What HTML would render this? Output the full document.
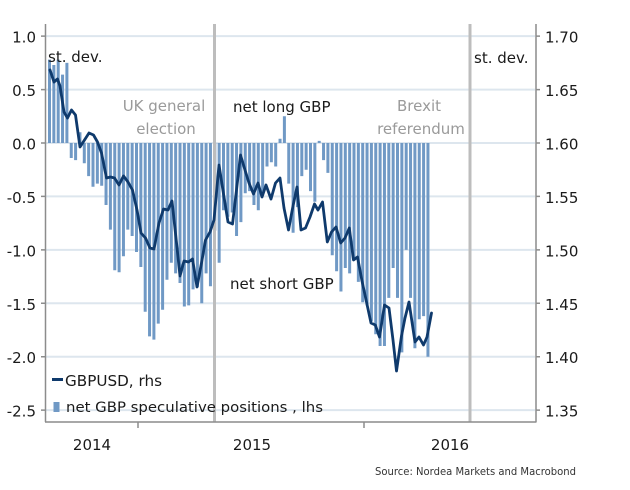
<!DOCTYPE html>
<html><head><meta charset="utf-8"><style>
html,body{margin:0;padding:0;background:#fff;}
svg{display:block;}
text{font-family:"DejaVu Sans","Liberation Sans",sans-serif;}
</style></head><body>
<svg width="630" height="490" viewBox="0 0 630 490" xmlns="http://www.w3.org/2000/svg">
<rect width="630" height="490" fill="#fff"/>
<g stroke="#dde6ee" stroke-width="2">
<line x1="46" y1="36.1" x2="535" y2="36.1"/>
<line x1="46" y1="89.6" x2="535" y2="89.6"/>
<line x1="46" y1="143" x2="535" y2="143"/>
<line x1="46" y1="196.4" x2="535" y2="196.4"/>
<line x1="46" y1="249.9" x2="535" y2="249.9"/>
<line x1="46" y1="303.3" x2="535" y2="303.3"/>
<line x1="46" y1="356.7" x2="535" y2="356.7"/>
<line x1="46" y1="410.1" x2="535" y2="410.1"/>
</g>
<path fill="#7099c5" d="M48 143v-83.4h3v83.4z M52.35 143v-78h3v78z M56.7 143v-83.4h3v83.4z M61.05 143v-68.4h3v68.4z M65.4 143v-80.1h3v80.1z M69.75 143v15h3v-15z M74.1 143v17.1h3v-17.1z M78.45 143v-10.7h3v10.7z M82.8 143v20.3h3v-20.3z M87.15 143v33.1h3v-33.1z M91.5 143v43.8h3v-43.8z M95.85 143v40.6h3v-40.6z M100.2 143v42.7h3v-42.7z M104.55 143v62h3v-62z M108.9 143v86.6h3v-86.6z M113.25 143v127.2h3v-127.2z M117.6 143v129.3h3v-129.3z M121.95 143v113.3h3v-113.3z M126.3 143v86.6h3v-86.6z M130.65 143v93h3v-93z M135 143v109h3v-109z M139.35 143v124h3v-124z M143.7 143v168.8h3v-168.8z M148.05 143v193.4h3v-193.4z M152.4 143v196.6h3v-196.6z M156.75 143v180.6h3v-180.6z M161.1 143v166.7h3v-166.7z M165.45 143v136.8h3v-136.8z M169.8 143v119.7h3v-119.7z M174.15 143v130.4h3v-130.4z M178.5 143v140h3v-140z M182.85 143v163.5h3v-163.5z M187.2 143v162.4h3v-162.4z M191.55 143v146.4h3v-146.4z M195.9 143v144.3h3v-144.3z M200.25 143v160.3h3v-160.3z M204.6 143v130.4h3v-130.4z M208.95 143v143.2h3v-143.2z M213.3 143v87.6h3v-87.6z M217.65 143v119.7h3v-119.7z M222 143v67.3h3v-67.3z M226.35 143v73.7h3v-73.7z M230.7 143v69.5h3v-69.5z M235.05 143v93h3v-93z M239.4 143v79.1h3v-79.1z M243.75 143v50.2h3v-50.2z M248.1 143v48.1h3v-48.1z M252.45 143v62h3v-62z M256.8 143v67.3h3v-67.3z M261.15 143v50.2h3v-50.2z M265.5 143v23.5h3v-23.5z M269.85 143v19.2h3v-19.2z M274.2 143v23.5h3v-23.5z M278.55 143v-4.3h3v4.3z M282.9 143v-26.7h3v26.7z M287.25 143v40.6h3v-40.6z M291.6 143v89.8h3v-89.8z M295.95 143v64.1h3v-64.1z M300.3 143v33.1h3v-33.1z M304.65 143v26.7h3v-26.7z M309 143v48.1h3v-48.1z M313.35 143v58.8h3v-58.8z M317.7 143v-2.1h3v2.1z M322.05 143v17.1h3v-17.1z M326.4 143v29.9h3v-29.9z M330.75 143v112.2h3v-112.2z M335.1 143v128.2h3v-128.2z M339.45 143v148.5h3v-148.5z M343.8 143v125h3v-125z M348.15 143v130.4h3v-130.4z M352.5 143v117.5h3v-117.5z M356.85 143v138.9h3v-138.9z M361.2 143v159.2h3v-159.2z M365.55 143v162.4h3v-162.4z M369.9 143v178.5h3v-178.5z M374.25 143v191.3h3v-191.3z M378.6 143v203h3v-203z M382.95 143v203h3v-203z M387.3 143v154.9h3v-154.9z M391.65 143v125h3v-125z M396 143v154.9h3v-154.9z M400.35 143v209.4h3v-209.4z M404.7 143v106.9h3v-106.9z M409.05 143v154.9h3v-154.9z M413.4 143v205.2h3v-205.2z M417.75 143v176.3h3v-176.3z M422.1 143v173.1h3v-173.1z M426.45 143v213.7h3v-213.7z"/>
<line x1="214.5" y1="24" x2="214.5" y2="422" stroke="#bdbdbd" stroke-width="3"/>
<line x1="470" y1="24" x2="470" y2="422" stroke="#bdbdbd" stroke-width="3"/>
<g stroke="#8c8c8c" stroke-width="1.5" fill="none">
<line x1="45.5" y1="24" x2="45.5" y2="422"/>
<line x1="536" y1="24" x2="536" y2="422"/>
<line x1="45" y1="422" x2="536.5" y2="422"/>
<line x1="138" y1="422" x2="138" y2="428"/>
<line x1="364" y1="422" x2="364" y2="428"/>
<path d="M41 36.1h4M41 89.6h4M41 143h4M41 196.4h4M41 249.9h4M41 303.3h4M41 356.7h4M41 410.1h4"/>
<path d="M536 36.1h4M536 89.6h4M536 143h4M536 196.4h4M536 249.9h4M536 303.3h4M536 356.7h4M536 410.1h4"/>
</g>
<polyline fill="none" stroke="#0f3a6c" stroke-width="2.8" stroke-linejoin="round" stroke-linecap="round" points="50,70 54,82 57.5,79 60,86 64,112 67.5,118 71.5,110 75.5,115 80,147 84.5,140 89,133 93.5,135 97.5,142 101.5,153 106.5,178 110.5,177 114.5,178 119,185 123.5,176 128,182 132.5,190 137,210 141,233 145.5,238 150,248 154,249 159,223 163.5,209 168,210 172,201 176,238 180,276 184,261 188.5,262 192.5,259 197,287 201.5,263 205.5,240 210,232 214,220 219,165 224,197 228,222 232.5,224 236.5,190 240.5,155 245,170 249,183 253.5,194 258,183 262,197 266,185 271,199 275.5,183 280,178 284,208 288.5,230 293,206 297,187 301,230 305.5,228 310,217 314.5,204 318,210 322.5,202 327.3,242 331.5,232 336,227 340.7,243 345,238 349.3,228 353.5,260 357.5,257 362,281 366.5,302 371,323 375.3,325 379.5,337 384.5,305 389,308 393,340 396.5,371 401.5,336 405,318 409,302 415,342 419,337 423.5,345 427,337 431.5,313"/>
<g font-size="15" fill="#1a1a1a" text-anchor="end">
<text x="36" y="42.6">1.0</text>
<text x="36" y="96.1">0.5</text>
<text x="36" y="149.5">0.0</text>
<text x="36" y="202.9">-0.5</text>
<text x="36" y="256.4">-1.0</text>
<text x="36" y="309.8">-1.5</text>
<text x="36" y="363.2">-2.0</text>
<text x="36" y="416.6">-2.5</text>
</g>
<g font-size="15" fill="#1a1a1a">
<text x="545" y="42.6">1.70</text>
<text x="545" y="96.1">1.65</text>
<text x="545" y="149.5">1.60</text>
<text x="545" y="202.9">1.55</text>
<text x="545" y="256.4">1.50</text>
<text x="545" y="309.8">1.45</text>
<text x="545" y="363.2">1.40</text>
<text x="545" y="416.6">1.35</text>
</g>
<g font-size="15" fill="#1a1a1a" text-anchor="middle">
<text x="92" y="450">2014</text>
<text x="252" y="450">2015</text>
<text x="450" y="450">2016</text>
</g>
<g font-size="15" fill="#1a1a1a">
<text x="48" y="62">st. dev.</text>
<text x="474" y="63">st. dev.</text>
<text x="233" y="112">net long GBP</text>
<text x="230" y="289">net short GBP</text>
</g>
<g font-size="15" fill="#9a9a9a" text-anchor="middle">
<text x="164" y="111">UK general</text>
<text x="166" y="134">election</text>
<text x="419" y="111">Brexit</text>
<text x="421" y="134">referendum</text>
</g>
<line x1="52" y1="379.5" x2="63" y2="379.5" stroke="#0f3a6c" stroke-width="3"/>
<text x="65" y="386" font-size="15" fill="#1a1a1a" textLength="97" lengthAdjust="spacingAndGlyphs">GBPUSD, rhs</text>
<rect x="53.5" y="402" width="6" height="10" fill="#7099c5"/>
<text x="66" y="412" font-size="14" fill="#1a1a1a" textLength="257" lengthAdjust="spacingAndGlyphs">net GBP speculative positions , lhs</text>
<text x="375" y="475" font-size="10.5" fill="#333" textLength="201" lengthAdjust="spacingAndGlyphs">Source: Nordea Markets and Macrobond</text>
</svg>
</body></html>
